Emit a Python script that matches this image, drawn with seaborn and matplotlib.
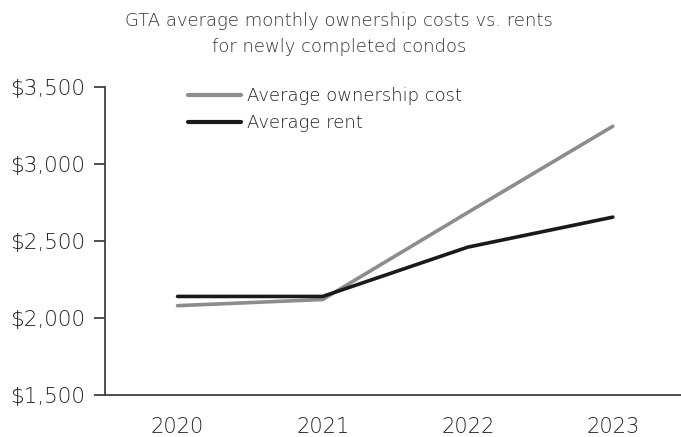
import matplotlib
matplotlib.use("Agg")
import matplotlib.pyplot as plt
import seaborn as sns
import pandas as pd
from matplotlib.ticker import FuncFormatter, FixedLocator

years = ["2020", "2021", "2022", "2023"]
ownership_cost = [2080, 2120, 2685, 3245]
average_rent = [2140, 2140, 2460, 2655]
series_names = ["Average ownership cost", "Average rent"]
title = "GTA average monthly ownership costs vs. rents\nfor newly completed condos"

df = pd.DataFrame({
    "year": years * 2,
    "value": ownership_cost + average_rent,
    "series": [series_names[0]] * 4 + [series_names[1]] * 4,
})

sns.set_style("white")
plt.rcParams["font.family"] = ["DejaVu Sans"]
plt.rcParams["font.weight"] = "light"

W, H = 681, 437
fig = plt.figure(figsize=(W / 100, H / 100), dpi=100)
ax = fig.add_axes([105 / W, 1 - 395 / H, (681 - 105) / W, (395 - 87) / H])

sns.lineplot(data=df, x="year", y="value", hue="series", sort=False,
             palette={series_names[0]: "#8c8c8c", series_names[1]: "#1a1a1a"},
             linewidth=2.6, ax=ax, legend=True)

ax.set_xlim(-0.5, 3.47)
ax.set_ylim(1500, 3500)
ax.set_yticks([1500, 2000, 2500, 3000, 3500])
ax.yaxis.set_major_formatter(FuncFormatter(lambda v, p: f"${v:,.0f}"))
ax.set_xticks(range(4))
ax.set_xticklabels(years)
ax.xaxis.set_minor_locator(FixedLocator([-0.5, 0.5, 1.5, 2.5, 3.5]))
ax.tick_params(axis="x", which="major", length=0, pad=16, labelsize=15, labelcolor="#222222")
ax.tick_params(axis="x", which="minor", length=6, width=1.3, color="#404040", direction="out")
ax.tick_params(axis="y", length=8, width=1.3, color="#404040", direction="out",
               left=True, pad=6, labelsize=15.5, labelcolor="#222222")
ax.set_xlabel("")
ax.set_ylabel("")
for s in ["top", "right"]:
    ax.spines[s].set_visible(False)
for s in ["left", "bottom"]:
    ax.spines[s].set_color("#404040")
    ax.spines[s].set_linewidth(1.3)

leg = ax.legend(loc="upper left", bbox_to_anchor=((181 - 105) / (681 - 105), 1.022),
                frameon=False, fontsize=13, handlelength=2.9, handletextpad=0.35,
                labelspacing=0.5, borderaxespad=0)
for t in leg.get_texts():
    t.set_color("#222222")
for l in leg.get_lines():
    l.set_linewidth(3)

fig.text(339 / W, 1 - 34 / H, title, ha="center", va="center", fontsize=13,
         color="#333333", linespacing=1.5)

fig.savefig("out.png", dpi=100)
